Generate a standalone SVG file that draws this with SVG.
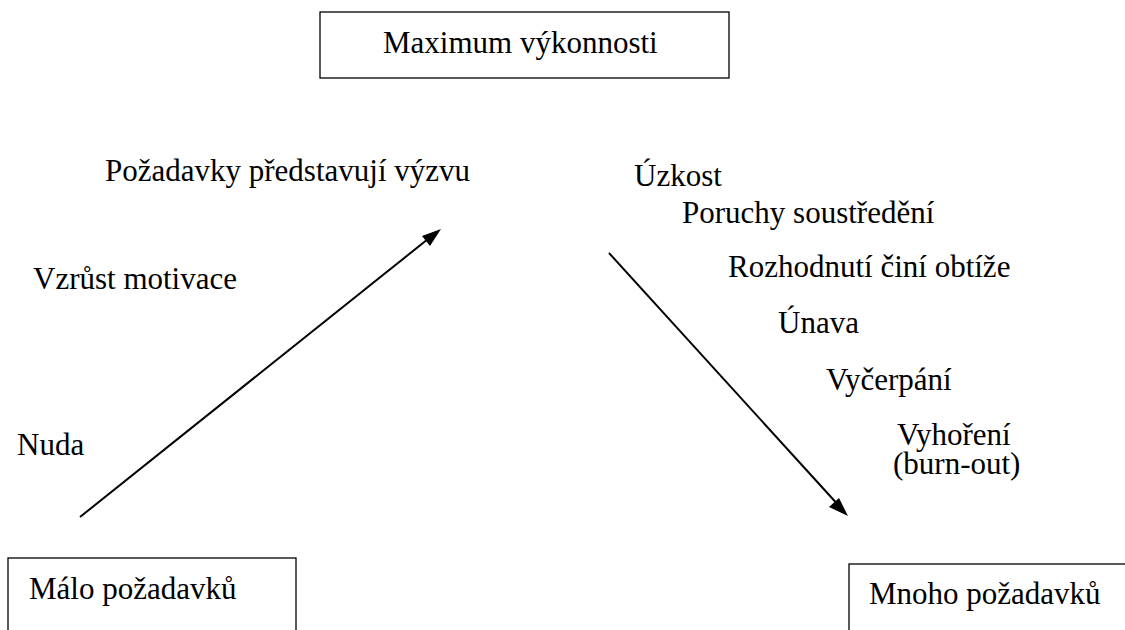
<svg xmlns="http://www.w3.org/2000/svg" width="1125" height="630" viewBox="0 0 1125 630">
<style>
.box{fill:#fff;stroke:#000;stroke-width:1.3}
.ln{stroke:#000;stroke-width:2;fill:none}
.ah{fill:#000}
</style>
<rect width="1125" height="630" fill="#fff"/>
<g id="connectors">
<line class="ln" x1="80" y1="517" x2="433" y2="235"/>
<path class="ah" d="M441,229 L430,246 L422,236 z"/>
<line class="ln" x1="609" y1="253" x2="841" y2="508"/>
<path class="ah" d="M848,516 L829,507 L839,498 z"/>
</g>
<g font-family="'Liberation Serif', 'Times New Roman', serif" font-size="31" fill="#000">
<g id="max">
<rect class="box" x="320" y="12" width="409" height="66"/>
<text x="383" y="53">Maximum výkonnosti</text>
</g>
<g id="malo">
<rect class="box" x="8" y="558" width="288" height="90"/>
<text x="29" y="599">Málo požadavků</text>
</g>
<g id="mnoho">
<rect class="box" x="849" y="564" width="300" height="90"/>
<text x="869" y="604">Mnoho požadavků</text>
</g>
<g id="labels">
<text x="105" y="181">Požadavky představují výzvu</text>
<text x="33" y="289">Vzrůst motivace</text>
<text x="17" y="455">Nuda</text>
<text x="634" y="186">Úzkost</text>
<text x="682" y="223">Poruchy soustředění</text>
<text x="728" y="277">Rozhodnutí činí obtíže</text>
<text x="778" y="333">Únava</text>
<text x="826" y="390">Vyčerpání</text>
<text><tspan x="897" y="445">Vyhoření</tspan><tspan x="893" y="474">(burn-out)</tspan></text>
</g>
</g>
</svg>
